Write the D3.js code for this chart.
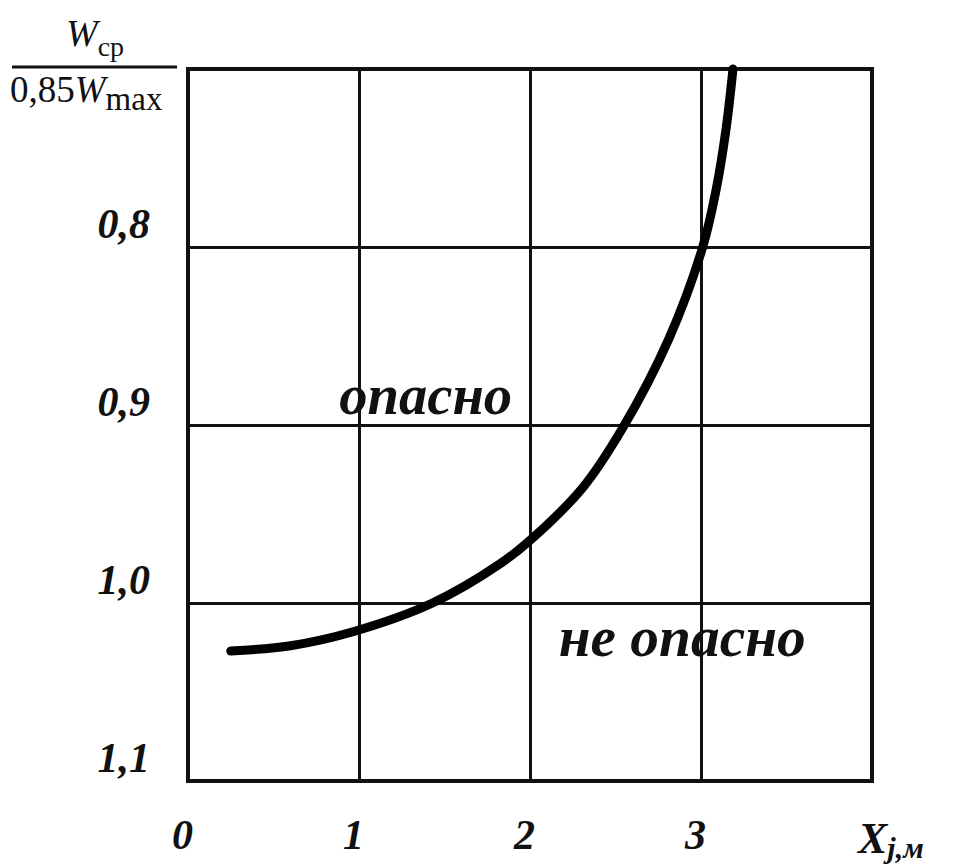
<!DOCTYPE html>
<html lang="ru">
<head>
<meta charset="utf-8">
<style>
  body { margin: 0; background: #fff; }
  svg { display: block; }
  .tick text { font-family: "Liberation Serif", serif; font-style: italic; font-weight: bold; font-size: 42px; fill: #111; }
  .zone { font-family: "Liberation Serif", serif; font-style: italic; font-weight: bold; font-size: 58px; fill: #111; }
</style>
<script src="https://d3js.org/d3.v7.min.js"></script>
</head>
<body>
<script>
// values
var xTicks = [0, 1, 2, 3];
var yTicks = [0.8, 0.9, 1.0, 1.1];
var curveX = [0.25, 0.60, 0.97, 1.43, 1.825, 2.01, 2.31, 2.54, 2.81, 3.01, 3.088, 3.146, 3.187];
var curveY = [1.027, 1.024, 1.016, 1.0, 0.978, 0.964, 0.935, 0.902, 0.852, 0.8, 0.768, 0.734, 0.70];
var zoneLabels = [
  { text: "опасно", x: 1.39, y: 0.894, len: 173 },
  { text: "не опасно", x: 2.89, y: 1.030, len: 247 }
];

var W = 956, H = 865;
var plotL = 188, plotR = 872, plotT = 69, plotB = 781;

var svg = d3.select("body").append("svg")
    .attr("width", W)
    .attr("height", H);

var x = d3.scaleLinear().domain([0, 4]).range([plotL, plotR]);
var y = d3.scaleLinear().domain([0.7, 1.1]).range([plotT, plotB]);

var fmt = function(d) { return d3.format(".1f")(d).replace(".", ","); };

// horizontal grid + y labels
var yAxis = d3.axisLeft(y)
    .tickValues(yTicks)
    .tickSize(-(plotR - plotL))
    .tickPadding(38)
    .tickFormat(fmt);
var gy = svg.append("g")
    .attr("transform", "translate(" + plotL + ",0)")
    .call(yAxis);
gy.select(".domain").remove();
gy.selectAll(".tick line").attr("stroke", "#111").attr("stroke-width", 3);
gy.selectAll(".tick text").attr("dy", "-0.22em");

// vertical grid + x labels (baseline set directly)
var xAxis = d3.axisBottom(x)
    .tickValues(xTicks)
    .tickSize(-(plotB - plotT))
    .tickFormat(d3.format("d"));
var gx = svg.append("g")
    .attr("transform", "translate(0," + plotB + ")")
    .call(xAxis);
gx.select(".domain").remove();
gx.selectAll(".tick line").attr("stroke", "#111").attr("stroke-width", 3);
gx.selectAll(".tick text").attr("y", 68).attr("dy", 0).attr("dx", "-6px");

// frame
svg.append("rect")
    .attr("x", x(0)).attr("y", y(0.7))
    .attr("width", x(4) - x(0)).attr("height", y(1.1) - y(0.7))
    .attr("fill", "none").attr("stroke", "#111").attr("stroke-width", 4);

// curve
var pts = curveX.map(function(d, i) { return [d, curveY[i]]; });
var line = d3.line()
    .x(function(d) { return x(d[0]); })
    .y(function(d) { return y(d[1]); })
    .curve(d3.curveCatmullRom.alpha(0.5));
svg.append("path")
    .datum(pts)
    .attr("d", line)
    .attr("fill", "none")
    .attr("stroke", "#000")
    .attr("stroke-width", 9)
    .attr("stroke-linecap", "round");

// zone labels
svg.selectAll(".zone")
  .data(zoneLabels)
  .enter().append("text")
    .attr("class", "zone")
    .attr("x", function(d) { return x(d.x); })
    .attr("y", function(d) { return y(d.y); })
    .attr("text-anchor", "middle")
    .attr("textLength", function(d) { return d.len; })
    .attr("lengthAdjust", "spacingAndGlyphs")
    .text(function(d) { return d.text; });

// x axis name
var xl = svg.append("text")
    .attr("x", 858).attr("y", 853)
    .style("font-family", "Liberation Serif, serif")
    .style("font-style", "italic").style("font-weight", "bold")
    .style("font-size", "44px").attr("fill", "#111");
xl.append("tspan").text("X");
xl.append("tspan").attr("dy", 5).style("font-size", "30px").text("j,м");

// y axis name as a fraction
var yl = svg.append("g")
    .style("font-family", "Liberation Serif, serif")
    .attr("fill", "#111");
var num = yl.append("text").attr("x", 66).attr("y", 46).style("font-size", "38px");
num.append("tspan").style("font-style", "italic").text("W");
num.append("tspan").attr("dy", 10).style("font-size", "28px").text("ср");
yl.append("line")
    .attr("x1", 12).attr("x2", 177).attr("y1", 67).attr("y2", 67)
    .attr("stroke", "#111").attr("stroke-width", 3);
var den = yl.append("text").attr("x", 10).attr("y", 102).style("font-size", "37px");
den.append("tspan").text("0,85");
den.append("tspan").style("font-style", "italic").text("W");
den.append("tspan").attr("dy", 8).style("font-size", "33px").text("max");
</script>
</body>
</html>
